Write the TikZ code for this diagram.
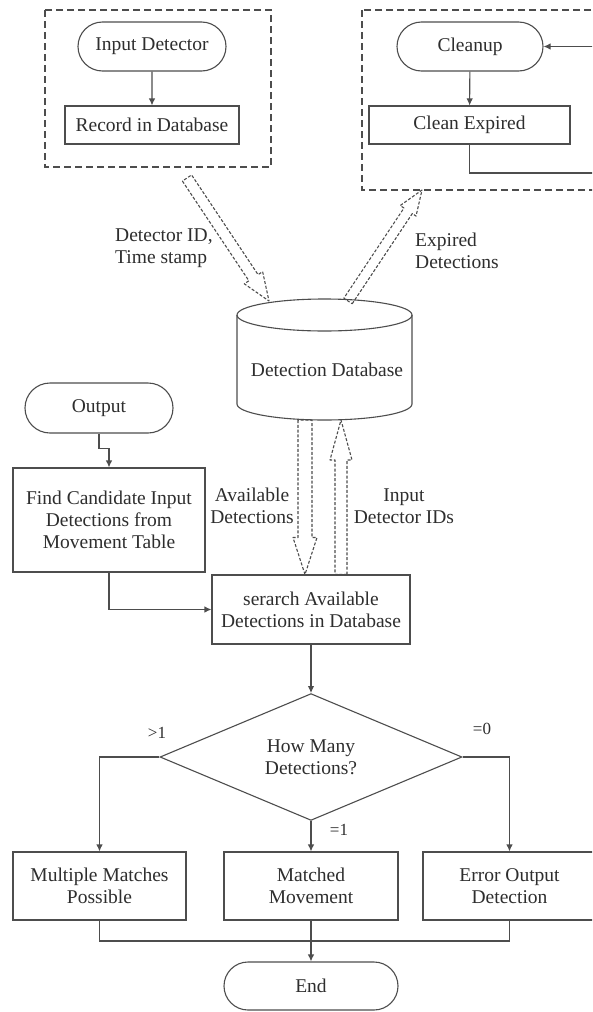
\documentclass[tikz,border=0pt]{standalone}
\usepackage{fontspec}
\setmainfont{Liberation Serif}
\usetikzlibrary{shapes.geometric,shapes.misc,arrows.meta,calc}
\definecolor{ln}{HTML}{4D4D4D}
\definecolor{tx}{HTML}{2E2E2E}
\tikzset{
  base/.style={draw=ln, line width=1.1pt, text=tx, font=\fontsize{19.5}{22}\selectfont, align=center, inner sep=0pt},
  term/.style={base, rounded rectangle},
  box/.style={base, rectangle},
  flow/.style={draw=ln, line width=1.1pt, -{Latex[length=7pt,width=6.5pt]}},
  plain/.style={draw=ln, line width=1.1pt},
  group/.style={draw=ln, line width=1.1pt, dash pattern=on 7pt off 4pt},
  hollow/.style={draw=ln, line width=1.1pt, dash pattern=on 3pt off 1.8pt, line join=round},
  lab/.style={text=tx, font=\fontsize{19.5}{21.5}\selectfont, align=center, inner sep=0pt},
  elab/.style={text=tx, font=\fontsize{17}{20}\selectfont, inner sep=0pt},
}
% hollow block arrow: tail, tip, shaft half width, head half width, head length (pt)
\newcommand{\hollowarrow}[5]{%
  \draw[hollow] let \p1=($(#2)-(#1)$), \n1={veclen(\x1,\y1)}, \n2={atan2(\y1,\x1)} in
    [shift={(#1)}, rotate=\n2]
    (0pt,-#3pt) -- ({\n1-#5pt},-#3pt) -- ({\n1-#5pt},-#4pt) -- ({\n1+0pt},0pt)
    -- ({\n1-#5pt},#4pt) -- ({\n1-#5pt},#3pt) -- (0pt,#3pt) -- cycle;}
\begin{document}
\begin{tikzpicture}[x=1pt,y=-1pt]
\useasboundingbox (0,0) rectangle (592,1012);
\clip (0,0) rectangle (592,1012);
\fill[white] (0,0) rectangle (592,1012);

% groups
\draw[group] (45,10) rectangle (271,167);
\draw[group] (362,10) rectangle (610,190);

% nodes
\node[term, minimum width=148pt, minimum height=49pt] (in) at (152,46.5) {Input Detector};
\node[box, minimum width=174pt, minimum height=38pt] (rec) at (152,125) {Record in Database};
\node[term, minimum width=146pt, minimum height=49pt] (cl) at (470,46.5) {Cleanup};
\node[box, minimum width=201pt, minimum height=38pt] (ce) at (469.5,125) {Clean Expired};
\node[term, minimum width=148pt, minimum height=50pt] (out) at (99,408) {Output};
\node[box, minimum width=192pt, minimum height=104pt] (find) at (109,520) {Find Candidate Input\\Detections from\\Movement Table};
\node[box, minimum width=198pt, minimum height=69pt] (srch) at (311,609.5) {serarch Available\\Detections in Database};
\node[base, diamond, minimum width=302pt, minimum height=121pt, text depth=-6pt] (dec) at (311,757) {How Many\\Detections?};
\node[box, minimum width=173pt, minimum height=68pt] (mul) at (99.5,886) {Multiple Matches\\Possible};
\node[box, minimum width=174pt, minimum height=68pt] (mat) at (311,886) {Matched\\Movement};
\node[box, minimum width=173pt, minimum height=68pt] (err) at (509.5,886) {Error Output\\Detection};
\node[term, minimum width=174pt, minimum height=48pt] (end) at (311,986) {End};

% database cylinder
\draw[plain] (237,315) -- (237,404) arc[start angle=180, end angle=0, x radius=87.5, y radius=16] -- (412,315);
\draw[plain] (324.5,315) ellipse [x radius=87.5, y radius=16];
\node[lab] (db) at (327,370) {Detection Database};

% labels
\node[lab, align=left, anchor=west] (l1) at (115,248) {Detector ID,\\Time stamp};
\node[lab, align=left, anchor=west] (l2) at (415,251) {Expired\\Detections};
\node[lab] (l3) at (252,506) {Available\\Detections};
\node[lab] (l4) at (404,506) {Input\\Detector IDs};
\node[elab] (g1) at (157,733) {>1};
\node[elab] (g0) at (482,729) {=0};
\node[elab] (e1) at (339,830) {=1};

% connectors
\draw[flow] (in) -- (rec);
\draw[flow] (cl) -- (ce);
\coordinate (lp1) at (469.5,173);
\coordinate (lp2) at (600,173);
\coordinate (lp3) at (600,46.5);
\draw[flow] (ce.south) -- (lp1) -- (lp2) -- (lp3) -- (cl.east);
\draw[flow] (out.south) -- ++(0,15) -| (find.north);
\draw[flow] (find.south) |- (srch.west);
\draw[flow] (srch) -- (dec);
\draw[flow] (dec.west) -| (mul.north);
\draw[flow] (dec.east) -| (err.north);
\draw[flow] (dec.south) -- (mat.north);
\coordinate (j) at (311,941);
\draw[plain] (mul.south) |- (j);
\draw[plain] (err.south) |- (j);
\draw[flow] (mat.south) -- (end.north);

% hollow data arrows
\coordinate (a1s) at (187,178);
\coordinate (a1e) at (269,301);
\coordinate (a2s) at (348,301);
\coordinate (a2e) at (422,190);
\coordinate (a3s) at (305,420);
\coordinate (a3e) at (305,574.5);
\coordinate (a4s) at (341,574.5);
\coordinate (a4e) at (341,420);
\hollowarrow{a1s}{a1e}{5.5}{11}{28}
\hollowarrow{a2s}{a2e}{5}{9.5}{25}
\hollowarrow{a3s}{a3e}{7}{12}{37}
\hollowarrow{a4s}{a4e}{6}{11}{40}
\end{tikzpicture}
\end{document}
